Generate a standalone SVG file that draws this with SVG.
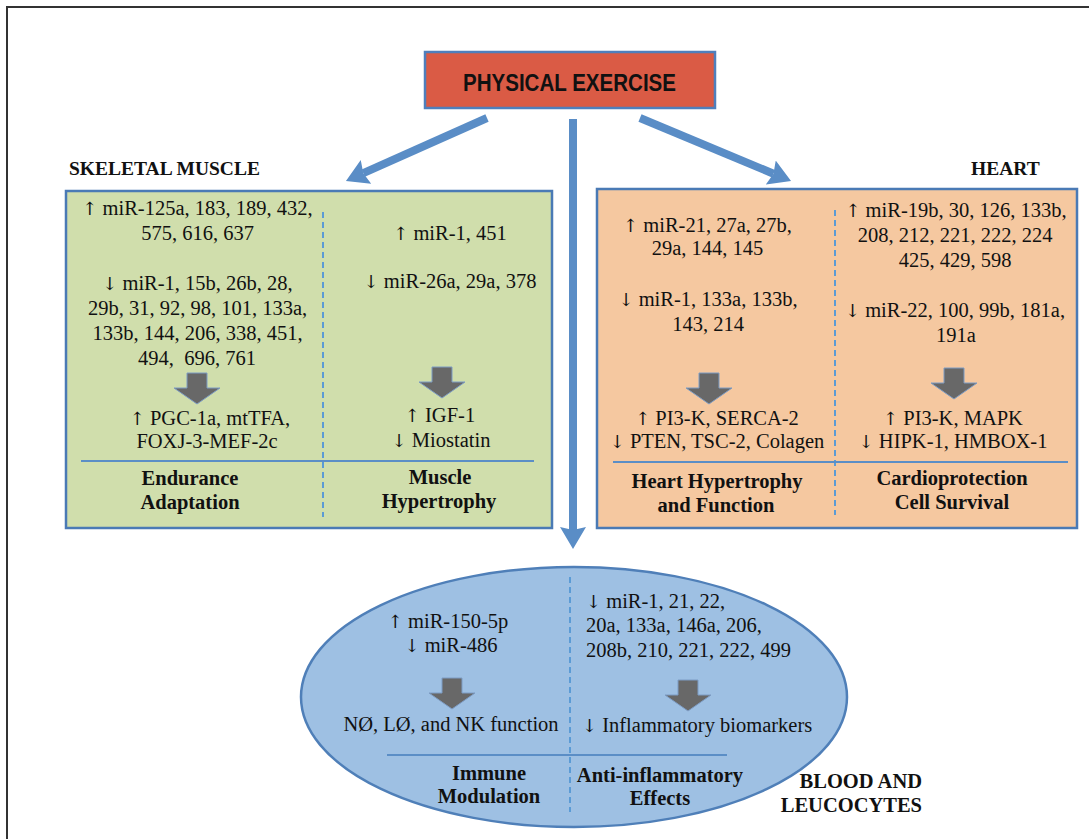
<svg xmlns="http://www.w3.org/2000/svg" width="1089" height="839" viewBox="0 0 1089 839">
<style>
.t{font-family:"Liberation Serif","DejaVu Serif","Times New Roman",serif;font-size:20.5px;fill:#111;text-anchor:middle}
.b{font-family:"Liberation Serif","DejaVu Serif","Times New Roman",serif;font-size:20.5px;font-weight:bold;fill:#111;text-anchor:middle}
.s{text-anchor:start}
.ar{font-family:"DejaVu Serif",serif;font-size:18px}
.h{font-family:"Liberation Serif","Times New Roman",serif;font-size:19.5px;font-weight:bold;fill:#111}
.div{stroke:#5B8EC6;stroke-width:2;fill:none}
.dash{stroke:#5B9BD5;stroke-width:2;stroke-dasharray:6 4;fill:none}
.conn{stroke:#5A8DC6;stroke-width:8;fill:none;marker-end:url(#ah)}
.blk{fill:#686868;stroke:#7D9CC4;stroke-width:1}
</style>
<defs>
<marker id="ah" markerUnits="userSpaceOnUse" markerWidth="24" markerHeight="26" viewBox="0 0 24 26" refX="3" refY="13" orient="auto">
<path d="M0,0 L22,13 L0,26 L3,13 Z" fill="#5A8DC6"/>
</marker>
<path id="blockarrow" class="blk" d="M-10,0 H10 V15 H23 L0,31 L-23,15 H-10 Z"/>
</defs>
<rect width="1089" height="839" fill="#fff"/>
<rect x="7" y="7" width="1100" height="900" fill="none" stroke="#333" stroke-width="2"/>

<g id="connectors">
<line class="conn" x1="487" y1="118" x2="363.3" y2="173.2"/>
<line class="conn" x1="640" y1="118" x2="773.5" y2="173.7"/>
<line class="conn" x1="573" y1="119" x2="573" y2="530"/>
</g>

<g id="physical-exercise">
<rect x="425" y="52" width="290" height="56" fill="#DA5B45" stroke="#4F7FBC" stroke-width="2.5"/>
<text x="569.5" y="91" font-family="'Liberation Sans',Arial,sans-serif" font-size="23" font-weight="bold" fill="#111" text-anchor="middle" textLength="213" lengthAdjust="spacingAndGlyphs">PHYSICAL EXERCISE</text>
</g>

<g id="skeletal-muscle">
<text class="h" x="69" y="175">SKELETAL MUSCLE</text>
<rect x="66" y="191" width="486" height="337" fill="#D0DEAC" stroke="#4A7AB5" stroke-width="2.5"/>
<line class="dash" x1="323" y1="212" x2="323" y2="517"/>
<line class="div" x1="81" y1="461" x2="534" y2="461"/>
<text class="t" x="197.5" y="215"><tspan class="ar">↑</tspan> miR-125a, 183, 189, 432,</text>
<text class="t" x="197.5" y="240">575, 616, 637</text>
<text class="t" x="197.5" y="290"><tspan class="ar">↓</tspan> miR-1, 15b, 26b, 28,</text>
<text class="t" x="197.5" y="315">29b, 31, 92, 98, 101, 133a,</text>
<text class="t" x="197.5" y="340">133b, 144, 206, 338, 451,</text>
<text class="t" x="197" y="365" style="white-space:pre">494,  696, 761</text>
<use href="#blockarrow" x="197" y="373"/>
<text class="t" x="210" y="425"><tspan class="ar">↑</tspan> PGC-1a, mtTFA,</text>
<text class="t" x="207" y="448">FOXJ-3-MEF-2c</text>
<text class="b" x="190" y="485">Endurance</text>
<text class="b" x="190" y="509">Adaptation</text>
<text class="t" x="450" y="240"><tspan class="ar">↑</tspan> miR-1, 451</text>
<text class="t" x="450" y="288"><tspan class="ar">↓</tspan> miR-26a, 29a, 378</text>
<use href="#blockarrow" x="442" y="367"/>
<text class="t" x="440" y="422"><tspan class="ar">↑</tspan> IGF-1</text>
<text class="t" x="441" y="447"><tspan class="ar">↓</tspan> Miostatin</text>
<text class="b" x="440" y="484">Muscle</text>
<text class="b" x="439" y="508">Hypertrophy</text>
</g>

<g id="heart">
<text class="h" x="971" y="175">HEART</text>
<rect x="597" y="189" width="480" height="339" fill="#F5C8A0" stroke="#4A7AB5" stroke-width="2.5"/>
<line class="dash" x1="835" y1="210" x2="835" y2="515"/>
<line class="div" x1="613" y1="462" x2="1068" y2="462"/>
<text class="t" x="707.5" y="232"><tspan class="ar">↑</tspan> miR-21, 27a, 27b,</text>
<text class="t" x="707.5" y="255">29a, 144, 145</text>
<text class="t" x="708" y="306"><tspan class="ar">↓</tspan> miR-1, 133a, 133b,</text>
<text class="t" x="708" y="331">143, 214</text>
<use href="#blockarrow" x="709" y="373"/>
<text class="t" x="717" y="425"><tspan class="ar">↑</tspan> PI3-K, SERCA-2</text>
<text class="t" x="717" y="448"><tspan class="ar">↓</tspan> PTEN, TSC-2, Colagen</text>
<text class="b" x="717" y="488">Heart Hypertrophy</text>
<text class="b" x="716" y="512">and Function</text>
<text class="t" x="956" y="217"><tspan class="ar">↑</tspan> miR-19b, 30, 126, 133b,</text>
<text class="t" x="955" y="242">208, 212, 221, 222, 224</text>
<text class="t" x="955" y="267">425, 429, 598</text>
<text class="t" x="955" y="317"><tspan class="ar">↓</tspan> miR-22, 100, 99b, 181a,</text>
<text class="t" x="956" y="342">191a</text>
<use href="#blockarrow" x="954" y="368"/>
<text class="t" x="953" y="425"><tspan class="ar">↑</tspan> PI3-K, MAPK</text>
<text class="t" x="953" y="448"><tspan class="ar">↓</tspan> HIPK-1, HMBOX-1</text>
<text class="b" x="952" y="485">Cardioprotection</text>
<text class="b" x="952" y="509">Cell Survival</text>
</g>

<g id="blood-leucocytes">
<ellipse cx="574" cy="697" rx="273" ry="130" fill="#9EC0E3" stroke="#4F7FB8" stroke-width="2.5"/>
<line class="dash" x1="570" y1="577" x2="570" y2="812"/>
<line class="div" x1="387" y1="755" x2="727" y2="755"/>
<text class="t" x="448" y="628"><tspan class="ar">↑</tspan> miR-150-5p</text>
<text class="t" x="451" y="652"><tspan class="ar">↓</tspan> miR-486</text>
<use href="#blockarrow" x="452" y="678"/>
<text class="t" x="451" y="731">NØ, LØ, and NK function</text>
<text class="t s" x="586" y="608"><tspan class="ar">↓</tspan> miR-1, 21, 22,</text>
<text class="t s" x="586" y="632">20a, 133a, 146a, 206,</text>
<text class="t s" x="586" y="657">208b, 210, 221, 222, 499</text>
<use href="#blockarrow" x="688" y="680"/>
<text class="t s" x="582" y="732"><tspan class="ar">↓</tspan> Inflammatory biomarkers</text>
<text class="b" x="489" y="780">Immune</text>
<text class="b" x="489" y="803">Modulation</text>
<text class="b" x="660" y="782">Anti-inflammatory</text>
<text class="b" x="660" y="805">Effects</text>
<text class="b" x="922" y="788" style="text-anchor:end">BLOOD AND</text>
<text class="b" x="922" y="812" style="text-anchor:end">LEUCOCYTES</text>
</g>
</svg>
